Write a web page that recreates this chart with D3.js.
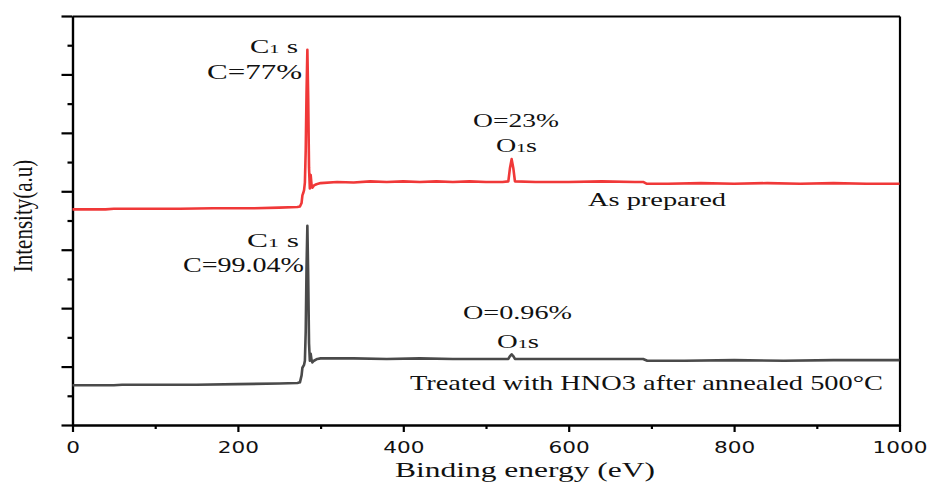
<!DOCTYPE html>
<html>
<head>
<meta charset="utf-8">
<script src="https://cdn.jsdelivr.net/npm/d3@7"></script>
<style>
  body { margin: 0; background: #fff; }
  .serif { font-family: "Liberation Serif", "Times New Roman", serif; fill: #111; }
  .axis path, .axis line { stroke: #000; stroke-width: 2.2px; }
  .axis text { font-family: "DejaVu Sans", Verdana, sans-serif; font-size: 16px; fill: #111; }
</style>
</head>
<body>
<div id="chart"></div>
<script>
// Binding energy (eV) and intensity (a.u.)
const asPrepared = [
  [0, 3.69], [40, 3.69], [50, 3.70], [90, 3.70], [130, 3.70], [170, 3.71], [220, 3.71],
  [250, 3.72], [272, 3.73], [275, 3.74], [277, 3.80], [278, 3.93], [279, 3.97], [280, 4.02],
  [281, 4.15], [282, 4.70], [283, 5.70], [284, 6.42], [285, 5.60], [286, 4.40], [287, 4.05],
  [288, 4.28], [289, 4.12], [290, 4.06], [292, 4.10], [295, 4.12], [300, 4.14], [320, 4.16],
  [340, 4.15], [360, 4.17], [380, 4.16], [400, 4.17], [420, 4.16], [440, 4.17], [460, 4.16],
  [480, 4.17], [500, 4.16], [520, 4.16], [527, 4.17], [529, 4.40], [531, 4.55], [533, 4.40],
  [535, 4.17], [560, 4.16], [600, 4.16], [640, 4.17], [680, 4.16], [690, 4.16], [694, 4.13],
  [720, 4.13], [760, 4.14], [800, 4.13], [840, 4.14], [880, 4.13], [920, 4.14], [960, 4.13],
  [1000, 4.13]
];

const treated = [
  [0, 0.68], [50, 0.68], [60, 0.69], [100, 0.69], [150, 0.69], [200, 0.70], [250, 0.71],
  [272, 0.72], [275, 0.73], [277, 0.85], [278, 0.98], [280, 1.03], [281, 1.10], [282, 1.60],
  [283, 2.70], [284, 3.41], [285, 2.55], [286, 1.40], [287, 1.10], [288, 1.22], [289, 1.12],
  [290, 1.07], [292, 1.10], [296, 1.13], [300, 1.14], [340, 1.14], [380, 1.13], [420, 1.14],
  [460, 1.13], [500, 1.13], [527, 1.13], [529, 1.18], [531, 1.21], [533, 1.18], [535, 1.13],
  [580, 1.13], [640, 1.13], [690, 1.13], [695, 1.10], [740, 1.10], [800, 1.11], [860, 1.10],
  [920, 1.11], [1000, 1.11]
];

const xMajorTicks = [0, 200, 400, 600, 800, 1000];
const xMinorTicks = [100, 300, 500, 700, 900];
const yMajorTicks = [0, 1, 2, 3, 4, 5, 6, 7];
const yMinorTicks = [0.5, 1.5, 2.5, 3.5, 4.5, 5.5, 6.5];

// annotation text: [text, eV start, eV end, intensity of baseline, size]
const annotations = [
  ["C1 s", 214.6, 272.7, 6.37, 18],
  ["C=77%", 162.6, 277.5, 5.92, 20],
  ["O=23%", 484.3, 588.3, 5.10, 19],
  ["O1s", 512.1, 561.7, 4.67, 19],
  ["As prepared", 623.3, 790.2, 3.75, 19],
  ["C1 s", 211.0, 273.9, 3.05, 18],
  ["C=99.04%", 133.6, 279.9, 2.62, 20],
  ["O=0.96%", 472.2, 604.0, 1.81, 19],
  ["O1s", 513.3, 564.1, 1.32, 19],
  ["Treated with HNO3 after annealed 500°C", 408.1, 980.1, 0.60, 22]
];

const width = 928, height = 483;

const svg = d3.select("#chart")
    .append("svg")
    .attr("width", width)
    .attr("height", height);

const x = d3.scaleLinear().domain([0, 1000]).range([72.5, 899.5]);
const y = d3.scaleLinear().domain([0, 7]).range([425, 16]);

// frame: top and right edges without ticks
svg.append("g").attr("class", "axis")
    .attr("transform", "translate(0," + y(7) + ")")
    .call(d3.axisTop(x).tickValues([]).tickSizeOuter(0));
svg.append("g").attr("class", "axis")
    .attr("transform", "translate(" + x(1000) + ",0)")
    .call(d3.axisRight(y).tickValues([]).tickSizeOuter(0));

// bottom axis, major + minor
svg.append("g").attr("class", "axis")
    .attr("transform", "translate(0," + y(0) + ")")
    .call(d3.axisBottom(x).tickValues(xMinorTicks).tickSize(4).tickSizeOuter(0).tickFormat(""));
const xAxis = svg.append("g").attr("class", "axis")
    .attr("transform", "translate(0," + y(0) + ")")
    .call(d3.axisBottom(x).tickValues(xMajorTicks).tickSize(7).tickSizeOuter(0).tickPadding(10).tickFormat(d3.format("d")));
xAxis.selectAll("text").attr("transform", "scale(1.35,1)");

// left axis, no labels
svg.append("g").attr("class", "axis")
    .attr("transform", "translate(" + x(0) + ",0)")
    .call(d3.axisLeft(y).tickValues(yMinorTicks).tickSize(5).tickSizeOuter(0).tickFormat(""));
svg.append("g").attr("class", "axis")
    .attr("transform", "translate(" + x(0) + ",0)")
    .call(d3.axisLeft(y).tickValues(yMajorTicks).tickSize(11).tickSizeOuter(0).tickFormat(""));

// spectra
const line = d3.line().x(d => x(d[0])).y(d => y(d[1]));

svg.append("path")
    .datum(treated)
    .attr("fill", "none")
    .attr("stroke", "#4a4a4a")
    .attr("stroke-width", 2.6)
    .attr("stroke-linejoin", "round")
    .attr("d", line);

svg.append("path")
    .datum(asPrepared)
    .attr("fill", "none")
    .attr("stroke", "#f03838")
    .attr("stroke-width", 2.6)
    .attr("stroke-linejoin", "round")
    .attr("d", line);

// annotations (the picture is stretched sideways, so fit each to its width)
annotations.forEach(a => {
    const t = svg.append("text")
        .attr("class", "serif")
        .attr("x", x(a[1]))
        .attr("y", y(a[3]))
        .attr("font-size", a[4])
        .attr("textLength", x(a[2]) - x(a[1]))
        .attr("lengthAdjust", "spacingAndGlyphs");
    const m = a[0].match(/^([CO])1(.*)$/);
    if (m) {
        t.append("tspan").text(m[1]);
        t.append("tspan").attr("font-size", a[4] * 0.7).text("1");
        t.append("tspan").text(m[2]);
    } else {
        t.text(a[0]);
    }
});

// axis titles
svg.append("text")
    .attr("class", "serif")
    .attr("x", 395)
    .attr("y", 477)
    .attr("font-size", 21)
    .attr("textLength", 260)
    .attr("lengthAdjust", "spacingAndGlyphs")
    .text("Binding energy (eV)");

svg.append("g")
    .attr("transform", "translate(32,216) scale(1.3,1) rotate(-90)")
    .append("text")
    .attr("class", "serif")
    .attr("text-anchor", "middle")
    .attr("font-size", 21)
    .text("Intensity(a.u)");
</script>
</body>
</html>
